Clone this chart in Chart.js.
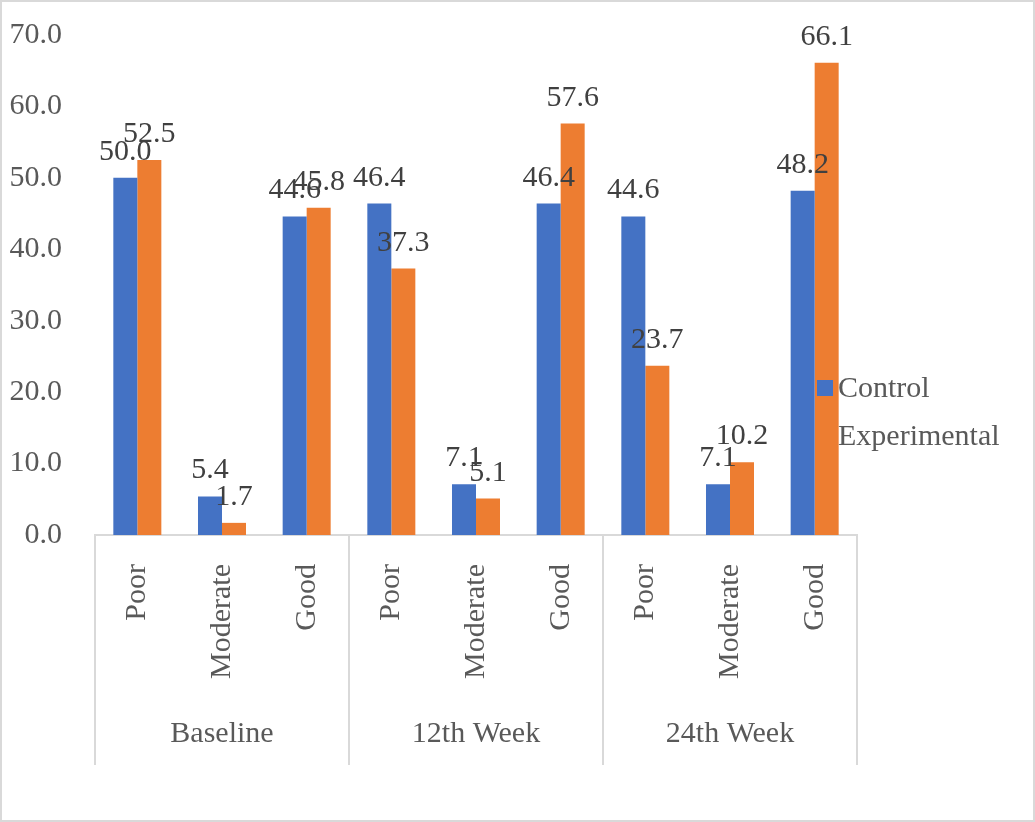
<!DOCTYPE html>
<html>
<head>
<meta charset="utf-8">
<title>Control vs Experimental</title>
<script src="https://cdn.jsdelivr.net/npm/chart.js@4.4.1/dist/chart.umd.min.js"></script>
<style>
  html, body { margin: 0; padding: 0; background: #ffffff; }
  canvas { display: block; }
</style>
</head>
<body>
<canvas id="outcomeChart" width="1035" height="822"></canvas>
<script>
// categories on the lower axis level, repeated for every time point
var categories = ['Poor', 'Moderate', 'Good', 'Poor', 'Moderate', 'Good', 'Poor', 'Moderate', 'Good'];
// upper axis level, each one spans three categories
var groups = ['Baseline', '12th Week', '24th Week'];
var controlValues = [50.0, 5.4, 44.6, 46.4, 7.1, 46.4, 44.6, 7.1, 48.2];
var experimentalValues = [52.5, 1.7, 45.8, 37.3, 5.1, 57.6, 23.7, 10.2, 66.1];
var yMin = 0, yMax = 70, yStep = 10;

var serif = "'Liberation Serif', 'Times New Roman', serif";
var axisGrey = '#d9d9d9';
var textGrey = '#595959';

// value labels over each bar
var valueLabels = {
    id: 'valueLabels',
    afterDatasetsDraw: function(chart) {
        var ctx = chart.ctx;
        ctx.save();
        ctx.font = '30px ' + serif;
        ctx.fillStyle = '#404040';
        ctx.textAlign = 'center';
        ctx.textBaseline = 'alphabetic';
        chart.data.datasets.forEach(function(ds, i) {
            chart.getDatasetMeta(i).data.forEach(function(bar, j) {
                ctx.fillText(ds.data[j].toFixed(1), bar.x, bar.y - 18);
            });
        });
        ctx.restore();
    }
};

// second axis level: group names and the separators between groups
var groupAxis = {
    id: 'groupAxis',
    afterDraw: function(chart) {
        var ctx = chart.ctx;
        var x = chart.scales.x;
        var per = categories.length / groups.length;
        var step = x.width / categories.length;
        var top = chart.chartArea.bottom;
        ctx.save();
        ctx.strokeStyle = axisGrey;
        ctx.lineWidth = 2;
        for (var g = 0; g <= groups.length; g++) {
            var bx = Math.round(x.left + step * per * g);
            ctx.beginPath();
            ctx.moveTo(bx, top);
            ctx.lineTo(bx, top + 230);
            ctx.stroke();
        }
        ctx.font = '30px ' + serif;
        ctx.fillStyle = textGrey;
        ctx.textAlign = 'center';
        ctx.textBaseline = 'middle';
        groups.forEach(function(name, g) {
            var cx = x.left + step * per * (g + 0.5);
            ctx.fillText(name, cx, top + 199);
        });
        // outer frame
        ctx.lineWidth = 2;
        ctx.strokeRect(1, 1, chart.width - 2, chart.height - 2);
        ctx.restore();
    }
};

// legend sits inside the plot, on top of the last bars
var innerLegend = {
    id: 'innerLegend',
    afterDatasetsDraw: function(chart) {
        var ctx = chart.ctx;
        var left = chart.chartArea.right - 40;
        var top = 380;
        ctx.save();
        ctx.font = '30px ' + serif;
        ctx.textAlign = 'left';
        ctx.textBaseline = 'alphabetic';
        chart.data.datasets.forEach(function(ds, i) {
            var y = top + i * 48;
            ctx.fillStyle = ds.backgroundColor;
            ctx.fillRect(left, y, 16, 16);
            ctx.fillStyle = textGrey;
            ctx.fillText(ds.label, left + 21, y + 17);
        });
        ctx.restore();
    }
};

var ctx = document.getElementById('outcomeChart').getContext('2d');
var outcomeChart = new Chart(ctx, {
    type: 'bar',
    data: {
        labels: categories,
        datasets: [
            {
                label: 'Control',
                data: controlValues,
                backgroundColor: '#4472c4',
                borderWidth: 0
            },
            {
                label: 'Experimental',
                data: experimentalValues,
                backgroundColor: '#ed7d31',
                borderWidth: 0
            }
        ]
    },
    options: {
        responsive: false,
        devicePixelRatio: 1,
        animation: false,
        categoryPercentage: 0.567,
        barPercentage: 1.0,
        layout: {
            padding: { left: 0, top: 35, right: 178, bottom: 0 }
        },
        scales: {
            x: {
                grid: { display: false },
                border: { display: true, color: axisGrey, width: 2 },
                ticks: {
                    autoSkip: false,
                    minRotation: 90,
                    maxRotation: 90,
                    padding: 21,
                    color: textGrey,
                    font: { family: serif, size: 30 }
                },
                afterFit: function(scale) { scale.height = 287; }
            },
            y: {
                min: yMin,
                max: yMax,
                grid: { display: false },
                border: { display: false },
                ticks: {
                    stepSize: yStep,
                    padding: 25,
                    color: textGrey,
                    font: { family: serif, size: 30 },
                    callback: function(v) { return v.toFixed(1); }
                },
                afterFit: function(scale) {
                    // the wide tick padding should not push the plot down
                    scale.width = 95;
                    scale.paddingTop = 0;
                    scale.paddingBottom = 0;
                }
            }
        },
        plugins: {
            legend: { display: false },
            tooltip: { enabled: false }
        }
    },
    plugins: [valueLabels, innerLegend, groupAxis]
});
</script>
</body>
</html>
